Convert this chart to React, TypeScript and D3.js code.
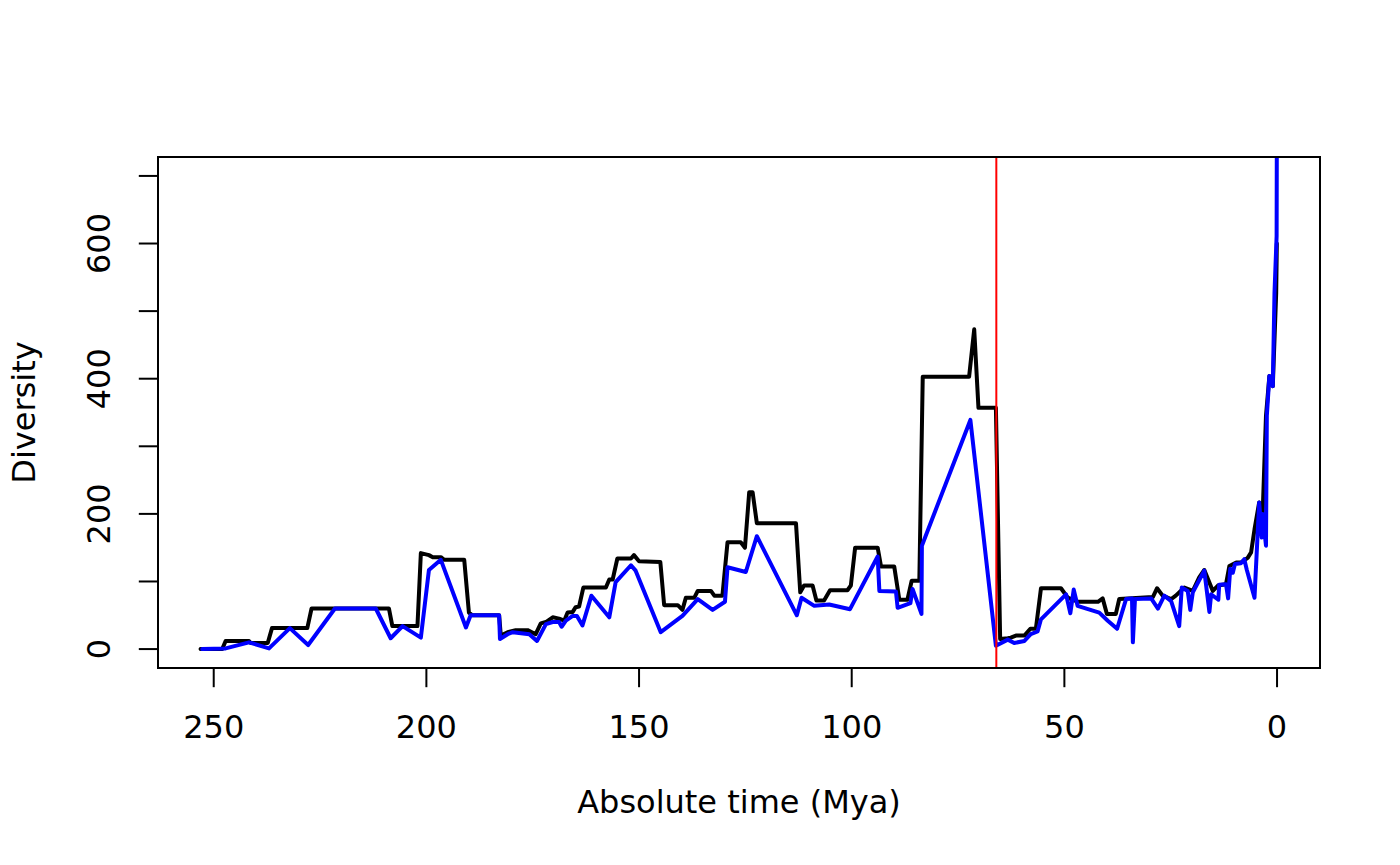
import * as d3 from "d3";
import { useEffect, useRef } from "react";

// black series: observed diversity (Mya, diversity)
const rawAge = [
  253.1, 248.0, 247.2, 241.7, 241.3, 237.3, 236.3, 228.0, 227.0, 208.8, 208.0,
  202.1, 201.3, 199.4, 198.5, 196.6, 195.8, 191.1, 190.0, 189.2, 182.9, 182.5,
  180.9, 179.0, 176.2, 174.3, 173.1, 171.9, 170.3, 168.8, 167.6, 166.8, 165.6,
  164.9, 164.1, 163.1, 157.8, 157.0, 156.2, 155.1, 151.9, 151.2, 150.0, 145.0,
  144.1, 140.9, 139.8, 139.0, 137.0, 136.2, 133.1, 132.3, 130.4, 129.2, 126.1,
  125.1, 124.1, 123.3, 122.3, 113.1, 112.1, 111.2, 109.2, 108.3, 106.5, 105.1,
  101.0, 100.2, 99.2, 93.9, 93.1, 90.0, 88.8, 86.9, 85.9, 84.1, 83.3, 72.4,
  71.2, 70.2, 66.1, 65.1, 63.3, 62.6, 61.4, 59.4, 58.0, 56.7, 55.5, 50.8, 49.2,
  46.9, 42.1, 41.0, 40.0, 37.9, 37.1, 29.2, 28.2, 26.9, 24.9, 23.8, 21.8, 19.8,
  18.3, 17.1, 15.1, 13.9, 12.0, 11.2, 9.6, 8.5, 6.9, 6.1, 5.3, 4.2, 3.4, 2.6,
  1.8, 1.0, 0.2, 0.05,
];
const rawDiv = [
  0, 0, 12, 12, 9, 9, 31, 31, 60, 60, 34, 34, 142, 139, 136, 136, 132, 132, 54,
  50, 50, 20, 25, 28, 28, 22, 38, 40, 47, 45, 42, 54, 55, 62, 63, 91, 91, 103,
  103, 134, 134, 139, 130, 129, 65, 65, 58, 76, 76, 86, 86, 79, 79, 158, 158,
  150, 232, 232, 186, 186, 84, 94, 94, 72, 72, 87, 87, 94, 150, 150, 122, 122,
  73, 73, 101, 101, 403, 403, 473, 357, 357, 15, 16, 17, 20, 20, 30, 30, 90, 90,
  76, 70, 70, 75, 52, 52, 74, 77, 90, 79, 74, 79, 91, 86, 106, 117, 86, 94, 96,
  123, 128, 128, 135, 143, 177, 217, 197, 345, 404, 389, 527, 600,
];

// blue series: corrected diversity
const corAge = [
  252.7, 247.2, 241.7, 237.0, 232.1, 227.8, 221.5, 211.9, 208.4, 205.6, 201.3,
  199.4, 196.6, 190.7, 189.6, 182.9, 182.7, 180.9, 179.7, 175.8, 174.0, 171.9,
  170.3, 168.8, 168.2, 167.2, 165.6, 164.6, 163.3, 161.2, 157.0, 155.5, 151.9,
  150.8, 144.9, 139.8, 136.2, 132.7, 129.8, 129.2, 124.9, 122.3, 112.9, 111.8,
  108.8, 105.3, 100.4, 93.9, 93.5, 89.6, 89.2, 86.2, 85.7, 83.6, 83.5, 72.1,
  66.1, 63.3, 61.8, 59.4, 57.9, 56.3, 55.5, 49.6, 48.6, 47.8, 46.9, 41.8, 39.8,
  37.6, 35.5, 34.1, 33.9, 33.4, 29.6, 28.0, 26.5, 24.9, 23.0, 22.4, 21.0, 20.4,
  19.8, 17.1, 15.9, 15.5, 13.8, 13.6, 12.0, 11.5, 11.0, 10.4, 9.9, 8.5, 7.7, 7.1,
  5.3, 4.2, 3.6, 3.4, 2.6, 2.4, 1.8, 1.0, 0.6, 0.1, 0,
];
const corDiv = [
  0, 1, 10, 1, 31, 6, 60, 60, 16, 34, 17, 117, 132, 32, 50, 50, 15, 22, 25, 22,
  12, 37, 40, 40, 33, 42, 49, 49, 35, 79, 47, 99, 124, 116, 25, 49, 74, 58, 70,
  121, 114, 167, 50, 76, 64, 66, 59, 137, 86, 85, 61, 68, 89, 52, 153, 339, 5,
  14, 9, 12, 22, 26, 44, 81, 53, 88, 64, 54, 42, 30, 74, 75, 10, 74, 75, 60, 79,
  71, 34, 91, 86, 58, 84, 116, 55, 81, 73, 95, 96, 75, 119, 113, 126, 127, 133,
  117, 76, 217, 165, 200, 153, 345, 404, 389, 527, 611, 900,
];

const xTicks = [250, 200, 150, 100, 50, 0];
const yTicks = [0, 100, 200, 300, 400, 500, 600, 700];
const yLabels = [0, 200, 400, 600];
const boundary = 66;

const W = 1400;
const H = 865;
const L = 158;
const R = 1320;
const T = 157;
const B = 668;
const FONT = "DejaVu Sans, sans-serif";

const App = () => {
  const ref = useRef<SVGSVGElement>(null);

  useEffect(() => {
    if (!ref.current) return;
    const svg = d3.select(ref.current);
    svg.selectAll("*").remove();

    const x = d3.scaleLinear().domain([263.1, -10.1]).range([L, R]);
    const y = d3.scaleLinear().domain([-28, 728]).range([B, T]);

    svg
      .append("defs")
      .append("clipPath")
      .attr("id", "plotclip")
      .append("rect")
      .attr("x", L)
      .attr("y", T)
      .attr("width", R - L)
      .attr("height", B - T);

    const g = svg.append("g").attr("clip-path", "url(#plotclip)");

    const line = d3
      .line<[number, number]>()
      .x((d) => x(d[0]))
      .y((d) => y(d[1]));

    const raw = rawAge.map((a, i) => [a, rawDiv[i]] as [number, number]);
    const cor = corAge.map((a, i) => [a, corDiv[i]] as [number, number]);

    g.append("path")
      .attr("d", line(raw))
      .attr("fill", "none")
      .attr("stroke", "black")
      .attr("stroke-width", 4)
      .attr("stroke-linejoin", "round")
      .attr("stroke-linecap", "round");

    g.append("path")
      .attr("d", line(cor))
      .attr("fill", "none")
      .attr("stroke", "blue")
      .attr("stroke-width", 4)
      .attr("stroke-linejoin", "round")
      .attr("stroke-linecap", "round");

    g.append("line")
      .attr("x1", x(boundary))
      .attr("x2", x(boundary))
      .attr("y1", T)
      .attr("y2", B)
      .attr("stroke", "red")
      .attr("stroke-width", 2);

    // box
    svg
      .append("rect")
      .attr("x", L)
      .attr("y", T)
      .attr("width", R - L)
      .attr("height", B - T)
      .attr("fill", "none")
      .attr("stroke", "black")
      .attr("stroke-width", 2);

    // x axis
    const xa = svg.append("g");
    xa.selectAll("line")
      .data(xTicks)
      .enter()
      .append("line")
      .attr("x1", (d) => x(d))
      .attr("x2", (d) => x(d))
      .attr("y1", B)
      .attr("y2", B + 19.2)
      .attr("stroke", "black")
      .attr("stroke-width", 2);
    xa.selectAll("text")
      .data(xTicks)
      .enter()
      .append("text")
      .attr("x", (d) => x(d))
      .attr("y", 738)
      .attr("text-anchor", "middle")
      .attr("font-family", FONT)
      .attr("font-size", 32)
      .text((d) => d);

    // y axis
    const ya = svg.append("g");
    ya.selectAll("line")
      .data(yTicks)
      .enter()
      .append("line")
      .attr("x1", L - 19.2)
      .attr("x2", L)
      .attr("y1", (d) => y(d))
      .attr("y2", (d) => y(d))
      .attr("stroke", "black")
      .attr("stroke-width", 2);
    ya.selectAll("text")
      .data(yLabels)
      .enter()
      .append("text")
      .attr("transform", (d) => `translate(110,${y(d)}) rotate(-90)`)
      .attr("text-anchor", "middle")
      .attr("font-family", FONT)
      .attr("font-size", 32)
      .text((d) => d);

    svg
      .append("text")
      .attr("x", (L + R) / 2)
      .attr("y", 813)
      .attr("text-anchor", "middle")
      .attr("font-family", FONT)
      .attr("font-size", 32)
      .text("Absolute time (Mya)");

    svg
      .append("text")
      .attr("transform", `translate(35,${(T + B) / 2}) rotate(-90)`)
      .attr("text-anchor", "middle")
      .attr("font-family", FONT)
      .attr("font-size", 32)
      .text("Diversity");
  }, []);

  return (
    <svg
      ref={ref}
      width={W}
      height={H}
      style={{ position: "absolute", left: 0, top: 0, background: "white" }}
    />
  );
};

export default App;
